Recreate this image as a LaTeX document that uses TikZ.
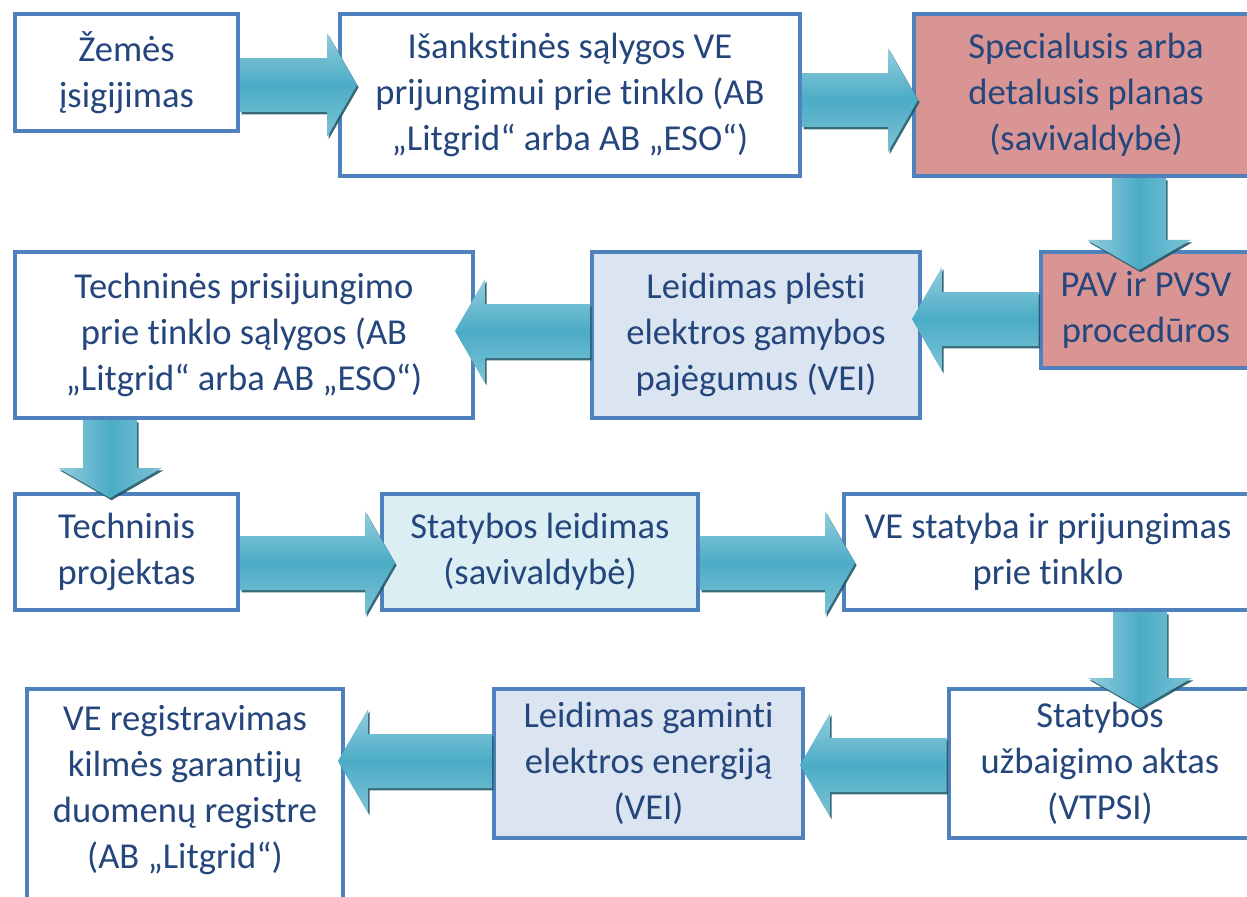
\documentclass[tikz,border=0pt]{standalone}
\usepackage{fontspec}
\setmainfont{Carlito}[Ligatures={NoCommon,NoContextual}]
\usepackage{xcolor}
\usepackage{tikz}
\usetikzlibrary{calc,shadows}
\definecolor{boxblue}{HTML}{4F81BD}
\definecolor{txtblue}{HTML}{24467C}
\definecolor{rosefill}{HTML}{D99594}
\definecolor{paleblue}{HTML}{DBE5F1}
\definecolor{palecyan}{HTML}{DAEEF3}
\definecolor{arrteal}{HTML}{4BACC6}
\definecolor{arrlight}{HTML}{93CDDD}
\definecolor{arrdark}{HTML}{215968}
% fat block arrow: [options]{from}{to}{how far the tip runs into the target}
\newcommand{\fatarrow}[4][]{%
  \path (#2) coordinate (fa-s) ($(#3)!-#4!(#2)$) coordinate (fa-t);
  \path ($(fa-t)!0.6cm!(fa-s)$) coordinate (fa-h);
  \path[fatbody,#1] ($(fa-s)!0.54cm!90:(fa-t)$) -- ($(fa-h)!0.54cm!90:(fa-t)$)
    -- ($(fa-h)!1.04cm!90:(fa-t)$) -- (fa-t) -- ($(fa-h)!1.04cm!-90:(fa-t)$)
    -- ($(fa-h)!0.54cm!-90:(fa-t)$) -- ($(fa-s)!0.54cm!-90:(fa-t)$) -- cycle;
}

\begin{document}
\begin{tikzpicture}[
  x=0.02cm, y=-0.02cm,
  every node/.style={font=\fontsize{20.8}{26.2}\selectfont, text=txtblue},
  box/.style={draw=boxblue, line width=2.3pt, fill=white, align=center, inner sep=2pt},
  fatbody/.style={top color=arrlight, bottom color=arrlight!70!arrteal, middle color=arrteal,
    drop shadow={shadow xshift=0.9pt, shadow yshift=-1.3pt, fill=arrdark, opacity=0.9}},
  vert/.style={shading angle=90}
]
  \useasboundingbox (0,0) rectangle (1247,896);
  \clip (0,0) rectangle (1247,896);
  \node[box, minimum width=4.46cm, minimum height=2.34cm] (b1) at (126.5,72.5) {Žemės\\ įsigijimas};
  \node[box, minimum width=9.2cm, minimum height=3.24cm] (b2) at (570,95) {Išankstinės sąlygos VE\\ prijungimui prie tinklo (AB\\ „Litgrid“ arba AB „ESO“)};
  \node[box, fill=rosefill, minimum width=6.88cm, minimum height=3.24cm] (b3) at (1086,95) {Specialusis arba\\ detalusis planas\\ (savivaldybė)};
  \node[box, minimum width=9.16cm, minimum height=3.32cm] (b4) at (244,335) {Techninės prisijungimo\\ prie tinklo sąlygos (AB\\ „Litgrid“ arba AB „ESO“)};
  \node[box, fill=paleblue, minimum width=6.56cm, minimum height=3.32cm] (b5) at (756,335) {Leidimas plėsti\\ elektros gamybos\\ pajėgumus (VEI)};
  \node[box, fill=rosefill, minimum width=4.22cm, minimum height=2.32cm] (b6) at (1146,310) {PAV ir PVSV\\ procedūros};
  \node[box, minimum width=4.46cm, minimum height=2.32cm] (b7) at (126.5,552) {Techninis\\ projektas};
  \node[box, fill=palecyan, minimum width=6.32cm, minimum height=2.32cm] (b8) at (540,552) {Statybos leidimas\\ (savivaldybė)};
  \node[box, minimum width=8.16cm, minimum height=2.32cm] (b9) at (1048,552) {VE statyba ir prijungimas\\ prie tinklo};
  \node[box, minimum width=6.32cm, minimum height=4.52cm, text depth=17.5pt] (b10) at (185,802) {VE registravimas\\ kilmės garantijų\\ duomenų registre\\ (AB „Litgrid“)};
  \node[box, fill=paleblue, minimum width=6.18cm, minimum height=2.98cm] (b11) at (648.5,763.5) {Leidimas gaminti\\ elektros energiją\\ (VEI)};
  \node[box, minimum width=6.06cm, minimum height=2.98cm] (b12) at (1100,763.5) {Statybos\\ užbaigimo aktas\\ (VTPSI)};

  \fatarrow{b1.east |- 0,85}{b2.west |- 0,85}{0.38cm}
  \fatarrow{b2.east |- 0,100}{b3.west |- 0,100}{0.12cm}
  \fatarrow[vert]{b3.south -| 1139,0}{b6.north -| 1139,0}{0.4cm}
  \fatarrow{b6.west |- 0,319}{b5.east |- 0,319}{0.2cm}
  \fatarrow{b5.west |- 0,331}{b4.east |- 0,331}{0.4cm}
  \fatarrow[vert]{b4.south -| 110,0}{b7.north -| 110,0}{0.12cm}
  \fatarrow{b7.east |- 0,563}{b8.west |- 0,563}{0.3cm}
  \fatarrow{b8.east |- 0,563}{b9.west |- 0,563}{0.26cm}
  \fatarrow[vert]{b9.south -| 1140,0}{b12.north -| 1140,0}{0.42cm}
  \fatarrow{b12.west |- 0,765}{b11.east |- 0,765}{0.1cm}
  \fatarrow{b11.west |- 0,761}{b10.east |- 0,761}{0.14cm}
\end{tikzpicture}
\end{document}
